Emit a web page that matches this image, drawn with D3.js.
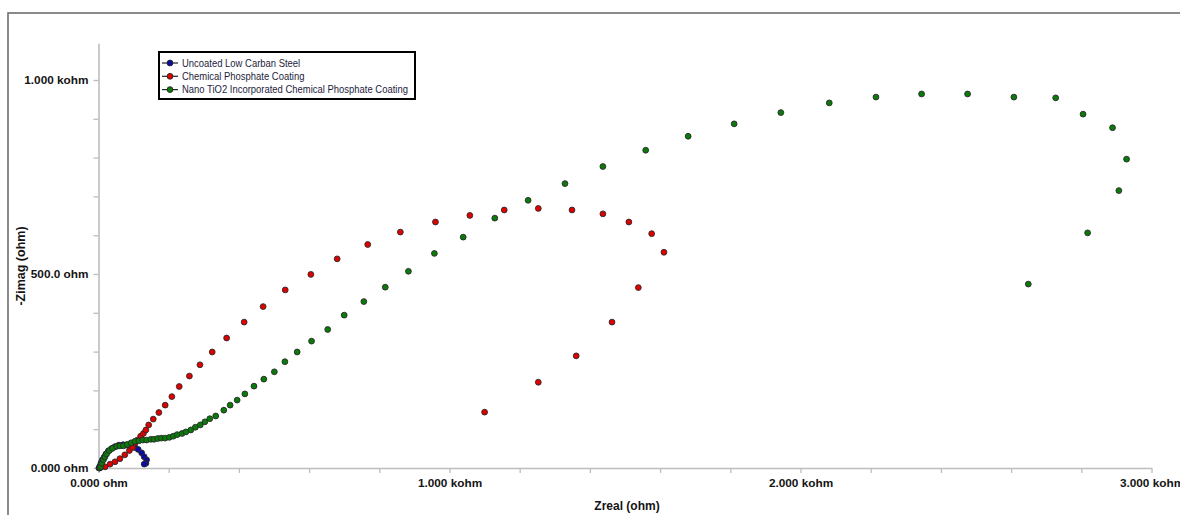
<!DOCTYPE html>
<html>
<head>
<meta charset="utf-8">
<script src="https://cdn.jsdelivr.net/npm/d3@7"></script>
<style>
  body { margin: 0; background: #ffffff; }
  svg text { font-family: "Liberation Sans", Arial, sans-serif; }
</style>
</head>
<body>
<svg id="chart" width="1180" height="515"></svg>
<script>
// Nyquist data: real and (negative) imaginary impedance in ohm
const seriesNames = [
  "Uncoated Low Carban Steel",
  "Chemical Phosphate Coating",
  "Nano TiO2 Incorporated Chemical Phosphate Coating"
];
const seriesColors = ["#0a0aa8", "#e00000", "#0a7a0a"];

const uncoatedZreal = [1, 4, 7, 11, 16, 21, 28, 37, 47, 58, 70, 81, 95, 104, 113, 123, 130, 137, 135, 130];
const uncoatedZimag = [0, 5, 13, 21, 28, 36, 44, 50, 55, 59, 60, 59, 57, 53, 48, 39, 29, 21, 12, 10];

const phosphateZreal = [3, 7, 19, 33, 47, 61, 75, 88, 97, 104, 111, 120, 128, 135, 143, 156, 172, 190,
  209, 230, 259, 289, 324, 365, 415, 469, 532, 605, 680, 767, 860, 960, 1058, 1156, 1253, 1349,
  1437, 1511, 1576, 1611, 1538, 1463, 1361, 1253, 1100];
const phosphateZimag = [0, 3, 3, 10, 16, 24, 34, 45, 53, 64, 72, 82, 89, 98, 111, 126, 143, 162,
  184, 210, 237, 266, 299, 335, 376, 416, 459, 499, 539, 576, 608, 634, 651, 665, 669, 665,
  655, 634, 604, 556, 465, 376, 289, 221, 144];

const nanoTiO2Zreal = [4, 6, 9, 14, 18, 23, 31, 40, 52, 61, 71, 82, 93, 104, 115, 126, 137, 149, 158,
  169, 179, 190, 202, 213, 224, 238, 249, 263, 276, 290, 303, 317, 334, 357, 375, 395, 417, 443,
  471, 501, 531, 566, 607, 653, 700, 756, 817, 883, 957, 1039, 1129, 1224, 1329, 1437, 1559,
  1680, 1811, 1944, 2082, 2215, 2345, 2476, 2608, 2727, 2805, 2889, 2929, 2907, 2818, 2649];
const nanoTiO2Zimag = [0, 3, 12, 21, 28, 36, 45, 51, 56, 57, 57, 61, 65, 69, 70, 72, 72, 74, 74,
  76, 77, 77, 79, 82, 86, 89, 93, 98, 105, 111, 119, 127, 134, 149, 162, 175, 191, 211,
  229, 248, 274, 299, 327, 357, 394, 429, 466, 507, 553, 595, 644, 690, 733, 777, 819,
  855, 887, 916, 941, 956, 964, 964, 956, 954, 912, 877, 796, 715, 606, 474];

const xTickValues = [0, 200, 400, 600, 800, 1000, 1200, 1400, 1600, 1800, 2000, 2200, 2400, 2600, 2800, 3000];
const xTickLabels = ["0.000 ohm", "", "", "", "", "1.000 kohm", "", "", "", "", "2.000 kohm", "", "", "", "", "3.000 kohm"];
const yTickValues = [0, 100, 200, 300, 400, 500, 600, 700, 800, 900, 1000];
const yTickLabels = ["0.000 ohm", "", "", "", "", "500.0 ohm", "", "", "", "", "1.000 kohm"];

const xTitle = "Zreal (ohm)";
const yTitle = "-Zimag (ohm)";

const series = [
  { name: seriesNames[0], color: seriesColors[0], zr: uncoatedZreal, zi: uncoatedZimag },
  { name: seriesNames[1], color: seriesColors[1], zr: phosphateZreal, zi: phosphateZimag },
  { name: seriesNames[2], color: seriesColors[2], zr: nanoTiO2Zreal, zi: nanoTiO2Zimag }
];

const svg = d3.select("#chart");

// outer frame of the graph window
svg.append("rect")
  .attr("x", 8).attr("y", 13)
  .attr("width", 1250).attr("height", 600)
  .attr("fill", "none")
  .attr("stroke", "#6e6e6e")
  .attr("stroke-width", 1.6);

const x = d3.scaleLinear().domain([0, 3000]).range([98.5, 1151.5]);
const y = d3.scaleLinear().domain([0, 1095]).range([468, 468 - 1095 * 0.388]);

const axisColor = "#bdbdbd";

const xAxis = svg.append("g")
  .attr("transform", "translate(0,468)")
  .call(d3.axisBottom(x)
    .tickValues(xTickValues)
    .tickFormat((d, i) => xTickLabels[i])
    .tickSize(5).tickSizeOuter(0).tickPadding(6));

const yAxis = svg.append("g")
  .attr("transform", "translate(98.5,0)")
  .call(d3.axisLeft(y)
    .tickValues(yTickValues)
    .tickFormat((d, i) => yTickLabels[i])
    .tickSize(5).tickSizeOuter(0).tickPadding(5));

[xAxis, yAxis].forEach(g => {
  g.select(".domain").attr("stroke", axisColor).attr("stroke-width", 1.6);
  g.selectAll(".tick line").attr("stroke", axisColor).attr("stroke-width", 1.3);
  g.selectAll(".tick text")
    .attr("fill", "#141414")
    .style("font-size", "11.8px")
    .style("font-weight", "bold")
    .style("font-family", "'Liberation Sans', Arial, sans-serif");
});

// axis titles
svg.append("text")
  .attr("x", 627).attr("y", 510)
  .attr("text-anchor", "middle")
  .style("font-size", "12px").style("font-weight", "bold")
  .attr("fill", "#141414")
  .text(xTitle);

svg.append("text")
  .attr("transform", "translate(25,266) rotate(-90)")
  .attr("text-anchor", "middle")
  .style("font-size", "12.5px").style("font-weight", "bold")
  .attr("fill", "#141414")
  .text(yTitle);

// data points
series.forEach(s => {
  svg.append("g")
    .selectAll("circle")
    .data(s.zr.map((v, i) => [v, s.zi[i]]))
    .join("circle")
    .attr("cx", d => x(d[0]))
    .attr("cy", d => y(d[1]))
    .attr("r", 2.9)
    .attr("fill", s.color)
    .attr("stroke", "#2a2a2a")
    .attr("stroke-width", 0.9);
});

// legend
const legend = svg.append("g");
legend.append("rect")
  .attr("x", 159).attr("y", 52)
  .attr("width", 256).attr("height", 47)
  .attr("fill", "#ffffff")
  .attr("stroke", "#000000")
  .attr("stroke-width", 2);

series.forEach((s, i) => {
  const cy = 63 + i * 13.3;
  legend.append("line")
    .attr("x1", 162).attr("x2", 178)
    .attr("y1", cy).attr("y2", cy)
    .attr("stroke", "#222").attr("stroke-width", 1.2);
  legend.append("circle")
    .attr("cx", 170).attr("cy", cy).attr("r", 2.9)
    .attr("fill", s.color).attr("stroke", "#222").attr("stroke-width", 0.9);
  // condensed legend lettering
  legend.append("text")
    .attr("transform", `translate(182,${cy}) scale(0.86,1)`)
    .attr("dy", "0.35em")
    .style("font-size", "11px")
    .attr("fill", "#1c1c3c")
    .text(s.name);
});
</script>
</body>
</html>
